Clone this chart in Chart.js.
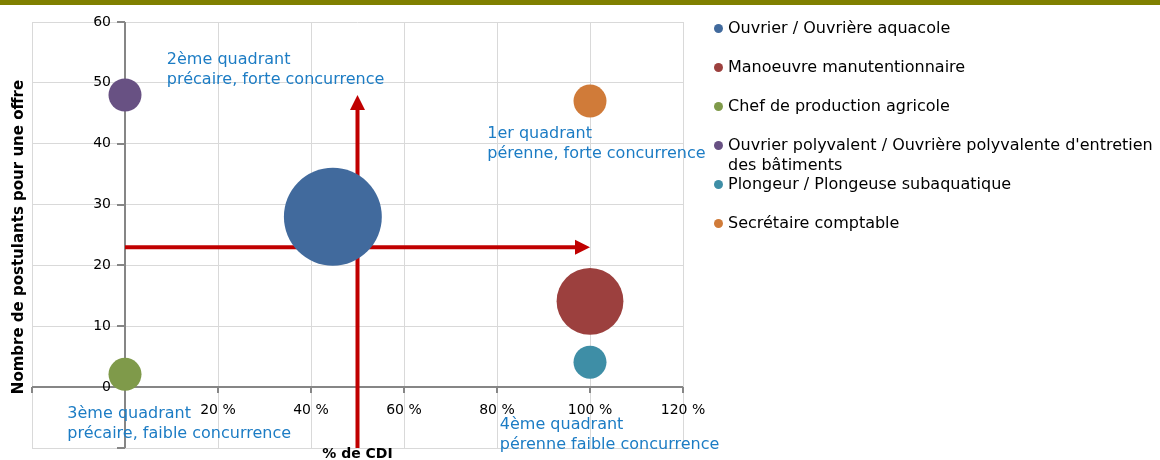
<!DOCTYPE html>
<html>
<head>
<meta charset="utf-8">
<script src="https://cdn.jsdelivr.net/npm/chart.js@4.4.1/dist/chart.umd.min.js"></script>
<style>
  html, body { margin: 0; padding: 0; background: #fff; }
  #wrap { position: relative; width: 1160px; height: 460px; overflow: hidden; }
  #topbar { position: absolute; left: 0; top: 0; width: 1160px; height: 5px; background: #808000; }
  #chart { position: absolute; left: 0; top: 0; }
  #legend { position: absolute; left: 709px; top: 0; width: 449px; font: 16px "DejaVu Sans", sans-serif; color: #000; }
  .item { position: absolute; left: 0; padding-left: 19px; line-height: 20px; }
  .dot { position: absolute; left: 5px; top: 6px; width: 9px; height: 9px; border-radius: 50%; }
</style>
</head>
<body>
<div id="wrap">
  <canvas id="chart" width="1160" height="460"></canvas>
  <div id="topbar"></div>
  <div id="legend"></div>
</div>
<script>
// métiers, % de CDI, postulants par offre, taille de bulle (relative)
const metiers = [
  'Ouvrier / Ouvrière aquacole',
  'Manoeuvre manutentionnaire',
  'Chef de production agricole',
  "Ouvrier polyvalent / Ouvrière polyvalente d'entretien des bâtiments",
  'Plongeur / Plongeuse subaquatique',
  'Secrétaire comptable'
];
const cdiPct = [44.7, 100, 0, 0, 100, 100];
const postulants = [28, 14.1, 2.1, 48, 4.1, 47];
const tailleBulle = [8.8, 4.1, 1, 1, 1, 1];
const couleurs = ['#416a9d', '#9c403e', '#7f9a4a', '#685183', '#3e8ea6', '#d07b39'];

// libellés des quadrants (position de la 1re ligne, en % et en postulants)
const quadrantTextes = [
  ['2ème quadrant', 'précaire, forte concurrence'],
  ['1er quadrant', 'pérenne, forte concurrence'],
  ['3ème quadrant', 'précaire, faible concurrence'],
  ['4ème quadrant', 'pérenne faible concurrence']
];
const quadrantX = [9, 77.9, -12.4, 80.6];
const quadrantY = [53.8, 41.6, -4.4, -6.2];

// flèches de séparation (de -> vers)
const flecheDe = [[0, 23], [50, -10]];
const flecheVers = [[100, 23], [50, 48]];

const FONT = '"DejaVu Sans", sans-serif';
const BLEU = '#1c7cc4';
const ROUGE = '#c00000';
const AXE = '#868686';

const dessins = {
  id: 'dessins',
  beforeDatasetsDraw(chart) {
    const { ctx, chartArea: ca, scales: { x, y } } = chart;
    const x0 = Math.round(x.getPixelForValue(0)), y0 = Math.round(y.getPixelForValue(0));
    ctx.save();
    // axes croisés en (0, 0)
    ctx.strokeStyle = AXE; ctx.lineWidth = 2;
    ctx.beginPath();
    ctx.moveTo(ca.left, y0); ctx.lineTo(ca.right, y0);
    ctx.moveTo(x0, ca.top); ctx.lineTo(x0, ca.bottom);
    x.ticks.forEach(t => { const px = Math.round(x.getPixelForValue(t.value)); ctx.moveTo(px, y0); ctx.lineTo(px, y0 + 6); });
    y.ticks.forEach(t => { const py = Math.round(y.getPixelForValue(t.value)); ctx.moveTo(x0, py); ctx.lineTo(x0 - 8, py); });
    ctx.stroke();
    // étiquettes des graduations
    ctx.fillStyle = '#000'; ctx.font = '14px ' + FONT;
    ctx.textAlign = 'center'; ctx.textBaseline = 'middle';
    x.ticks.filter(t => t.value > 0).forEach(t => ctx.fillText(t.value + ' %', x.getPixelForValue(t.value), y0 + 23));
    ctx.textAlign = 'right';
    y.ticks.filter(t => t.value >= 0).forEach(t => ctx.fillText(String(t.value), x0 - 14, y.getPixelForValue(t.value)));
    // flèches rouges
    ctx.strokeStyle = ROUGE; ctx.fillStyle = ROUGE; ctx.lineWidth = 4;
    flecheDe.forEach((d, i) => {
      const ax = x.getPixelForValue(d[0]), ay = y.getPixelForValue(d[1]);
      const bx = x.getPixelForValue(flecheVers[i][0]), by = y.getPixelForValue(flecheVers[i][1]);
      const a = Math.atan2(by - ay, bx - ax), L = 15, W = 7.5;
      const hx = bx - L * Math.cos(a), hy = by - L * Math.sin(a);
      ctx.beginPath(); ctx.moveTo(ax, ay); ctx.lineTo(hx, hy); ctx.stroke();
      ctx.beginPath();
      ctx.moveTo(bx, by);
      ctx.lineTo(hx + W * Math.sin(a), hy - W * Math.cos(a));
      ctx.lineTo(hx - W * Math.sin(a), hy + W * Math.cos(a));
      ctx.closePath(); ctx.fill();
    });
    ctx.restore();
  },
  afterDraw(chart) {
    const { ctx, chartArea: ca, scales: { x, y } } = chart;
    ctx.save();
    ctx.font = '16px ' + FONT; ctx.fillStyle = BLEU;
    ctx.textAlign = 'left'; ctx.textBaseline = 'middle';
    quadrantTextes.forEach((lines, i) => {
      const px = x.getPixelForValue(quadrantX[i]), py = y.getPixelForValue(quadrantY[i]);
      lines.forEach((t, j) => ctx.fillText(t, px, py + j * 20));
    });
    // titres des axes
    ctx.fillStyle = '#000'; ctx.textAlign = 'center';
    ctx.font = 'bold 14px ' + FONT;
    ctx.fillText('% de CDI', (ca.left + ca.right) / 2, 454);
    ctx.font = 'bold 15px ' + FONT;
    ctx.translate(19, (ca.top + ca.bottom) / 2 + 2);
    ctx.rotate(-Math.PI / 2);
    ctx.fillText('Nombre de postulants pour une offre', 0, 0);
    ctx.restore();
  }
};

new Chart(document.getElementById('chart').getContext('2d'), {
  type: 'bubble',
  data: {
    datasets: metiers.map((m, i) => ({
      label: m,
      data: [{ x: cdiPct[i], y: postulants[i], r: 16.5 * Math.sqrt(tailleBulle[i]) }],
      backgroundColor: couleurs[i], borderWidth: 0, hoverRadius: 0, clip: false
    }))
  },
  options: {
    responsive: false, animation: false,
    events: [],
    layout: { autoPadding: false, padding: { left: 32, top: 22, right: 477, bottom: 12 } },
    plugins: { legend: { display: false }, tooltip: { enabled: false } },
    scales: {
      x: {
        type: 'linear', min: -20, max: 120,
        ticks: { stepSize: 20, display: false },
        grid: { color: '#d9d9d9', drawTicks: false },
        border: { display: false }
      },
      y: {
        type: 'linear', min: -10, max: 60,
        ticks: { stepSize: 10, display: false },
        grid: { color: '#d9d9d9', drawTicks: false },
        border: { display: false }
      }
    }
  },
  plugins: [dessins]
});

// légende HTML : entrées espacées régulièrement
const leg = document.getElementById('legend');
metiers.forEach((m, i) => {
  const it = document.createElement('div');
  it.className = 'item';
  it.style.top = (18 + i * 39) + 'px';
  it.innerHTML = '<span class="dot" style="background:' + couleurs[i] + '"></span>' + m;
  leg.appendChild(it);
});
</script>
</body>
</html>
